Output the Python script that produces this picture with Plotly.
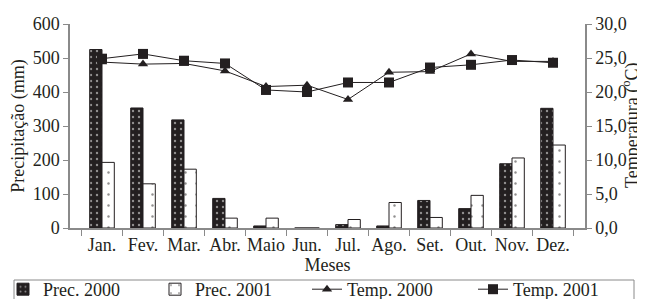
import plotly.graph_objects as go

months = ["Jan.", "Fev.", "Mar.", "Abr.", "Maio", "Jun.", "Jul.", "Ago.", "Set.", "Out.", "Nov.", "Dez."]
prec_2000 = [525, 353, 318, 87, 6, 0, 10, 6, 81, 57, 189, 352]
prec_2001 = [193, 130, 173, 29, 29, 0, 25, 75, 31, 96, 206, 244]
temp_2000 = [24.4, 24.1, 24.2, 23.1, 20.8, 21.0, 18.9, 22.9, 23.0, 25.6, 24.5, 24.5]
temp_2001 = [24.9, 25.6, 24.6, 24.2, 20.3, 20.0, 21.4, 21.4, 23.6, 24.0, 24.7, 24.3]

left_ticks = [0, 100, 200, 300, 400, 500, 600]
right_tickvals = [0, 5, 10, 15, 20, 25, 30]
right_ticktext = ["0,0", "5,0", "10,0", "15,0", "20,0", "25,0", "30,0"]

dark = "#231f20"
axis_gray = "#8a8a8a"
font = "Liberation Serif, Times New Roman, serif"
fs = 18

# plot area geometry (figure px)
L, T, W, H = 62, 16, 515, 204
def px(fx):
    return (fx - L) / W
def py(fy):
    return (T + H - fy) / H

fig = go.Figure()
fig.add_trace(go.Bar(
    x=months, y=prec_2000, name="Prec. 2000", legend="legend",
    marker=dict(color=dark, line=dict(color=dark, width=1),
                pattern=dict(shape=".", fgcolor="white", bgcolor=dark, size=6, solidity=0.12, fillmode="overlay")),
))
fig.add_trace(go.Bar(
    x=months, y=prec_2001, name="Prec. 2001", legend="legend2",
    marker=dict(color="white", line=dict(color=dark, width=1),
                pattern=dict(shape=".", fgcolor=dark, bgcolor="white", size=11, solidity=0.04, fillmode="overlay")),
))
fig.add_trace(go.Scatter(
    x=months, y=temp_2000, name="Temp. 2000", yaxis="y2", mode="lines+markers", legend="legend3",
    line=dict(color=dark, width=1), marker=dict(symbol="triangle-up", size=9, color=dark),
))
fig.add_trace(go.Scatter(
    x=months, y=temp_2001, name="Temp. 2001", yaxis="y2", mode="lines+markers", legend="legend4",
    line=dict(color=dark, width=1), marker=dict(symbol="square", size=10, color=dark),
))

leg_y = py(263)
def leg(fx):
    return dict(orientation="h", x=px(fx), xanchor="left", y=leg_y, yanchor="top",
                borderwidth=0, bgcolor="rgba(0,0,0,0)", itemwidth=30,
                font=dict(family=font, size=fs, color=dark))

fig.update_layout(
    width=645, height=299,
    margin=dict(l=L, r=645 - L - W, t=T, b=299 - T - H, autoexpand=False),
    paper_bgcolor="white", plot_bgcolor="white",
    font=dict(family=font, size=fs, color=dark),
    barmode="group", bargap=0.4, bargroupgap=0,
    showlegend=True,
    legend=leg(-5), legend2=leg(147), legend3=leg(299), legend4=leg(465),
    xaxis=dict(showline=True, linecolor=axis_gray, linewidth=1.5, ticks="outside", tickson="boundaries",
               ticklen=6, tickcolor=axis_gray, showgrid=False, tickangle=0, automargin=False,
               title=dict(text="Meses", standoff=0, font=dict(size=fs))),
    yaxis=dict(range=[0, 600], tickvals=left_ticks, showline=True, linecolor=axis_gray, linewidth=1.5,
               ticks="outside", ticklen=5, tickcolor=axis_gray, showgrid=False, zeroline=False, automargin=False,
               title=dict(text="Precipitação (mm)", standoff=8, font=dict(size=fs))),
    yaxis2=dict(range=[0, 30], overlaying="y", side="right", tickvals=right_tickvals, ticktext=right_ticktext,
                showline=True, linecolor=axis_gray, linewidth=1.5, ticks="outside", ticklen=5,
                tickcolor=axis_gray, showgrid=False, zeroline=False, automargin=False),
    annotations=[dict(text="Temperatura (<sup>o</sup>C)", xref="paper", yref="paper",
                      x=px(623), y=0.5, textangle=-90, showarrow=False,
                      xanchor="center", yanchor="middle", font=dict(family=font, size=fs, color=dark))],
    shapes=[dict(type="rect", xref="paper", yref="paper", x0=px(6), x1=px(626), y0=py(272), y1=py(330),
                 line=dict(color=axis_gray, width=1), fillcolor="rgba(0,0,0,0)", layer="below")],
)

fig.write_html("out.html")
